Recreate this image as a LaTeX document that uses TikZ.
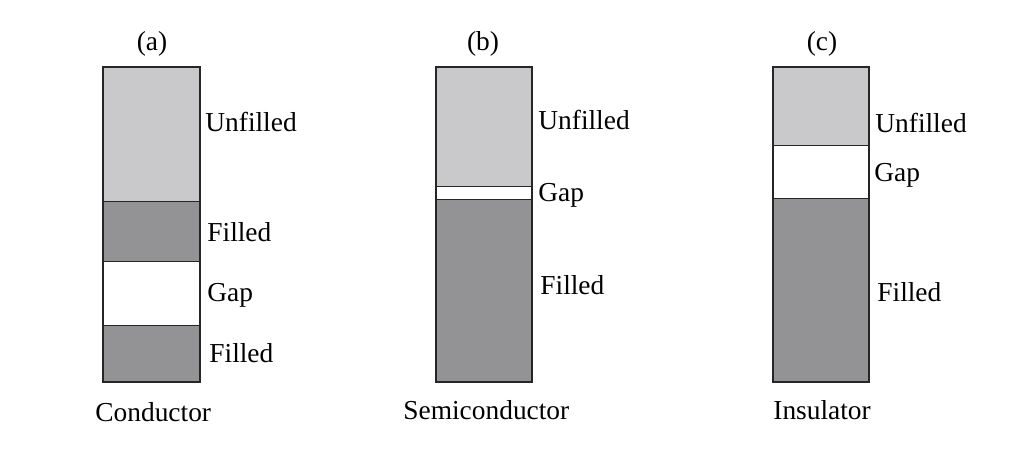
\documentclass[tikz,border=0pt]{standalone}
\usepackage{fontspec}
\setmainfont{Liberation Serif}
\definecolor{unfilledgray}{HTML}{C9C9CB}
\definecolor{filledgray}{HTML}{939396}
\definecolor{edgegray}{HTML}{262626}
\begin{document}
\begin{tikzpicture}[x=0.5pt,y=-0.5pt,
	sep/.style={draw=edgegray,line width=0.5pt},
	frame/.style={draw=edgegray,line width=1.2pt},
	lbl/.style={anchor=base west,inner sep=0pt,font=\fontsize{13.7}{16}\selectfont},
	ttl/.style={anchor=base,inner sep=0pt,font=\fontsize{13.7}{16}\selectfont}]
	
	\useasboundingbox (0,0) rectangle (1029,474);
	
	% (a) Conductor
	\fill[unfilledgray] (103,67) rectangle (200,202);
	\fill[filledgray] (103,202) rectangle (200,262);
	\fill[white] (103,262) rectangle (200,326);
	\fill[filledgray] (103,326) rectangle (200,382);
	\draw[sep] (103,202) -- (200,202);
	\draw[sep] (103,262) -- (200,262);
	\draw[sep] (103,326) -- (200,326);
	\draw[frame] (103,67) rectangle (200,382);
	
	\node[ttl] (atitle) at (152,51) {(a)};
	\node[lbl] (aunf) at (205,132) {Unfilled};
	\node[lbl] (afill) at (207,242) {Filled};
	\node[lbl] (agap) at (207,302) {Gap};
	\node[lbl] (afilltwo) at (209,363) {Filled};
	\node[lbl] (acap) at (95,422) {Conductor};
	
	% (b) Semiconductor
	\fill[unfilledgray] (436,67) rectangle (532,187);
	\fill[white] (436,187) rectangle (532,200);
	\fill[filledgray] (436,200) rectangle (532,382);
	\draw[sep] (436,187) -- (532,187);
	\draw[sep] (436,200) -- (532,200);
	\draw[frame] (436,67) rectangle (532,382);
	
	\node[ttl] (btitle) at (483,51) {(b)};
	\node[lbl] (bunf) at (538,130) {Unfilled};
	\node[lbl] (bgap) at (538,202) {Gap};
	\node[lbl] (bfill) at (540,295) {Filled};
	\node[lbl] (bcap) at (403,420) {Semiconductor};
	
	% (c) Insulator
	\fill[unfilledgray] (773,67) rectangle (869,146);
	\fill[white] (773,146) rectangle (869,199);
	\fill[filledgray] (773,199) rectangle (869,382);
	\draw[sep] (773,146) -- (869,146);
	\draw[sep] (773,199) -- (869,199);
	\draw[frame] (773,67) rectangle (869,382);
	
	\node[ttl] (ctitle) at (822,51) {(c)};
	\node[lbl] (cunf) at (875,133) {Unfilled};
	\node[lbl] (cgap) at (874,182) {Gap};
	\node[lbl] (cfill) at (877,302) {Filled};
	\node[lbl] (ccap) at (773,420) {Insulator};
	
\end{tikzpicture}
\end{document}
